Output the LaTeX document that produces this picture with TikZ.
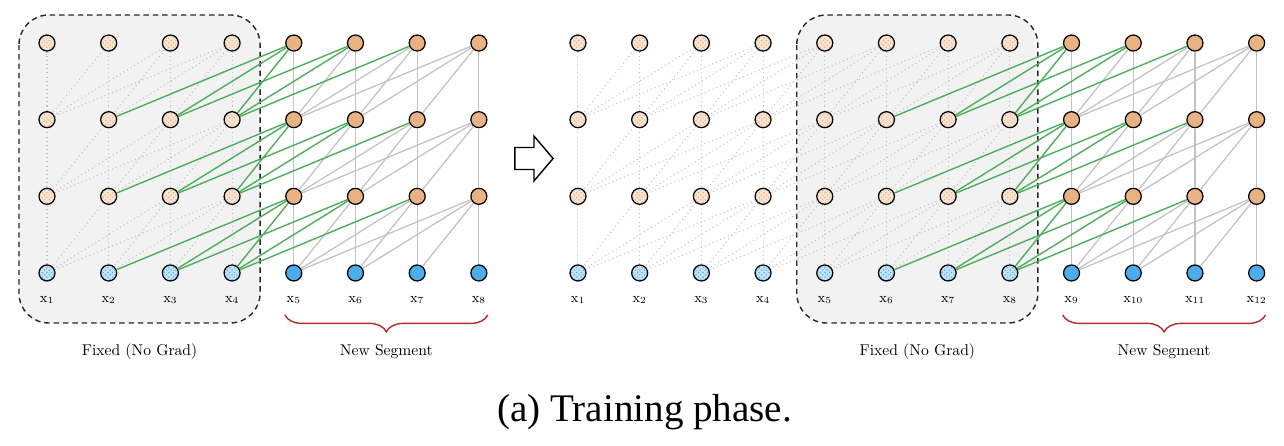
\documentclass[tikz,border=0pt]{standalone}
\usepackage{fontspec}
\usepackage{tikz}
\usetikzlibrary{
  decorations.pathreplacing,
  patterns
}
\newfontfamily\captionfont{Liberation Serif}

\definecolor{hidorange}{RGB}{233,178,130}
\definecolor{inblue}{RGB}{77,172,234}
\definecolor{boxgray}{RGB}{242,242,242}
\definecolor{linkgray}{RGB}{194,194,194}
\definecolor{linkgreen}{RGB}{78,174,92}
\definecolor{bracered}{RGB}{178,44,44}

\tikzset{
  neuron/.style={
    circle,
    draw=black,
    line width=0.8pt,
    minimum size=0.36cm,
    inner sep=0pt
  },
  live hidden/.style={neuron, fill=hidorange},
  live input/.style={neuron, fill=inblue},
  frozen hidden/.style={
    neuron,
    preaction={fill=hidorange!35},
    pattern=crosshatch dots,
    pattern color=hidorange
  },
  frozen input/.style={
    neuron,
    preaction={fill=inblue!35},
    pattern=crosshatch dots,
    pattern color=inblue
  },
  mem link/.style={line width=0.65pt, linkgray, dotted},
  seg link/.style={line width=0.8pt, linkgray},
  cross link/.style={line width=0.9pt, linkgreen},
  fixed box/.style={
    draw=black!85,
    fill=boxgray,
    line width=0.9pt,
    dash pattern=on 3.5pt off 2.5pt,
    rounded corners=0.67cm
  },
  seg brace/.style={
    draw=bracered,
    line width=0.9pt,
    decorate,
    decoration={brace, mirror, amplitude=0.38cm}
  },
  phase arrow/.style={
    draw=black,
    fill=white,
    line width=0.9pt,
    line join=miter
  },
  token label/.style={font=\small},
  part label/.style={font=\normalsize}
}

\begin{document}
\begin{tikzpicture}

  \useasboundingbox (0,0) rectangle (28.88,-10.03);

  % ---------- two snapshots: L = step 1, R = step 2 ----------
  \foreach \pre/\xo/\n/\f in {L/1.057/8/4, R/13.0/12/8}{

    \pgfmathtruncatemacro\g{\f+1}
    \pgfmathsetmacro\boxl{\xo+1.3877*(\f-4)-0.63}
    \pgfmathsetmacro\boxr{\xo+1.3877*(\f-1)+0.63}

    % cached segment (no gradient)
    \draw[fixed box] (\boxl,-0.337) rectangle (\boxr,-7.265);
    \node[part label] (\pre-fixed) at ({(\boxl+\boxr)/2},-7.917)
      {Fixed (No Grad)};

    % tokens and hidden states
    \foreach \i in {1,...,\f}{
      \node[frozen input] (\pre-1-\i) at ({\xo+1.3877*(\i-1)},-6.14) {};
      \foreach \l in {2,3,4}{
        \node[frozen hidden] (\pre-\l-\i)
          at ({\xo+1.3877*(\i-1)},{-6.14+1.724*(\l-1)}) {};
      }
    }
    \foreach \i in {\g,...,\n}{
      \node[live input] (\pre-1-\i) at ({\xo+1.3877*(\i-1)},-6.14) {};
      \foreach \l in {2,3,4}{
        \node[live hidden] (\pre-\l-\i)
          at ({\xo+1.3877*(\i-1)},{-6.14+1.724*(\l-1)}) {};
      }
    }
    \foreach \i in {1,...,\n}{
      \node[token label] (\pre-x\i) at ([yshift=-0.607cm]\pre-1-\i)
        {x$_{\i}$};
    }

    % attention window of 4: dotted (cached) and gray (new)
    \foreach \l in {2,3,4}{
      \pgfmathtruncatemacro\m{\l-1}
      \foreach \i in {1,...,\n}{
        \foreach \d in {0,...,3}{
          \pgfmathtruncatemacro\j{\i-\d}
          \ifnum\j>0\relax
            \ifnum\i>\f\relax
              \ifnum\j>\f\relax
                \draw[seg link] (\pre-\l-\i) -- (\pre-\m-\j);
              \fi
            \else
              \draw[mem link] (\pre-\l-\i) -- (\pre-\m-\j);
            \fi
          \fi
        }
      }
    }

    % new segment reading the cache
    \foreach \l in {2,3,4}{
      \pgfmathtruncatemacro\m{\l-1}
      \foreach \i in {\g,...,\n}{
        \foreach \d in {1,2,3}{
          \pgfmathtruncatemacro\j{\i-\d}
          \ifnum\j>\f\relax\else
            \draw[cross link] (\pre-\l-\i) -- (\pre-\m-\j);
          \fi
        }
      }
    }

    % new segment brace
    \coordinate (\pre-bl) at ({\xo+1.3877*\f-0.2},-7.084);
    \coordinate (\pre-br) at ({\xo+1.3877*(\n-1)+0.2},-7.084);
    \draw[seg brace] (\pre-bl) -- (\pre-br);
    \node[part label] (\pre-new) at ({\xo+1.3877*(\f+\n-1)/2},-7.917)
      {New Segment};
  }

  % ---------- step arrow ----------
  \draw[phase arrow]
    (11.58,-3.318) -- (12.01,-3.318) -- (12.01,-3.06)
    -- (12.44,-3.565) -- (12.01,-4.07) -- (12.01,-3.812)
    -- (11.58,-3.812) -- cycle;

  % ---------- caption ----------
  \node[font=\captionfont\fontsize{25}{30}\selectfont] (caption)
    at (14.5,-9.266) {(a) Training phase.};

\end{tikzpicture}
\end{document}
